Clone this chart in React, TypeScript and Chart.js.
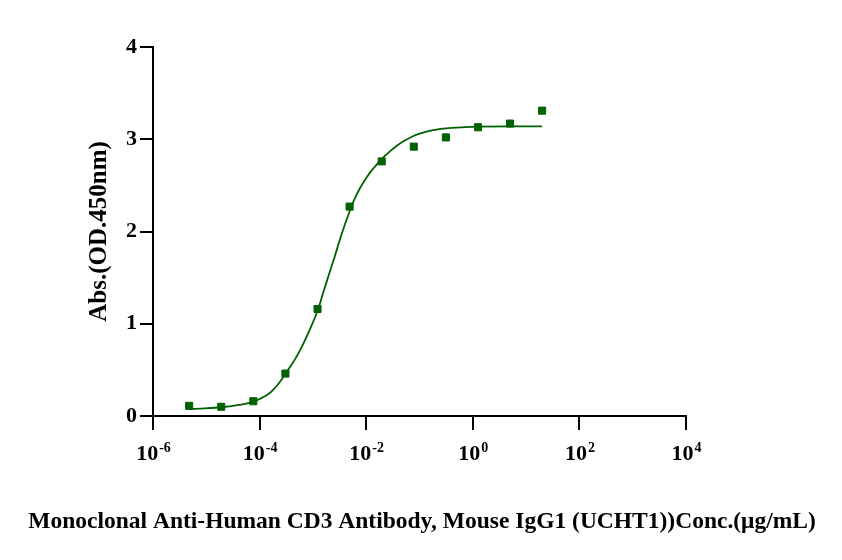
import React, { useEffect, useRef } from "react";
import { Chart, registerables } from "chart.js";

Chart.register(...registerables);

// Measured points (4-fold dilution series, µg/mL)
const concentrations = [
  20, 5, 1.25, 0.3125, 0.078125, 0.01953125, 0.0048828125, 0.001220703125,
  0.00030517578125, 0.0000762939453125, 0.000019073486328125, 0.00000476837158203125,
];
const absorbance = [3.31, 3.17, 3.13, 3.02, 2.92, 2.76, 2.27, 1.16, 0.46, 0.16, 0.1, 0.11];

// Fitted curve (log10 concentration, absorbance)
const fitLogConc = [
  -5.32, -5.03, -4.71, -4.38, -4.11, -3.98, -3.87, -3.78, -3.68, -3.6, -3.51, -3.42, -3.32,
  -3.19, -3.04, -2.9, -2.8, -2.69, -2.59, -2.5, -2.4, -2.31, -2.25, -2.2, -2.13, -2.06, -1.98,
  -1.9, -1.8, -1.71, -1.63, -1.56, -1.45, -1.31, -1.15, -1.0, -0.85, -0.68, -0.5, -0.31, 0.1,
  0.7, 1.3,
];
const fitAbs = [
  0.075, 0.082, 0.095, 0.12, 0.155, 0.19, 0.225, 0.265, 0.325, 0.385, 0.46, 0.54, 0.63, 0.77,
  0.96, 1.16, 1.35, 1.55, 1.73, 1.9, 2.075, 2.22, 2.31, 2.375, 2.455, 2.525, 2.597, 2.66,
  2.728, 2.785, 2.83, 2.866, 2.918, 2.975, 3.025, 3.06, 3.085, 3.105, 3.118, 3.127, 3.136,
  3.14, 3.14,
];

const xTickValues = [1e-6, 1e-4, 1e-2, 1, 1e2, 1e4];
const xTickBase = "10";
const xTickExponents = ["-6", "-4", "-2", "0", "2", "4"];

const yTitle = "Abs.(OD.450nm)";
const xTitle = "Monoclonal Anti-Human CD3 Antibody, Mouse IgG1 (UCHT1))Conc.(\u03bcg/mL)";

const GREEN = "#006100";
const SERIF = '"Liberation Serif", "Times New Roman", serif';

const customText = {
  id: "customText",
  afterDraw(chart: any) {
    const { ctx } = chart;
    const xs = chart.scales.x;
    ctx.save();
    ctx.fillStyle = "#000";
    ctx.textBaseline = "alphabetic";
    ctx.textAlign = "left";
    xTickValues.forEach((v, i) => {
      const px = xs.getPixelForValue(v);
      ctx.font = `bold 22px ${SERIF}`;
      const baseW = ctx.measureText(xTickBase).width;
      ctx.font = `bold 14px ${SERIF}`;
      const expW = ctx.measureText(xTickExponents[i]).width;
      const start = px - (baseW + expW) / 2;
      ctx.font = `bold 22px ${SERIF}`;
      ctx.fillText(xTickBase, start, 460);
      ctx.font = `bold 14px ${SERIF}`;
      ctx.fillText(xTickExponents[i], start + baseW + 1, 452);
    });
    ctx.font = `bold 23.5px ${SERIF}`;
    ctx.textAlign = "center";
    ctx.fillText(xTitle, 422, 528, 792);
    ctx.restore();
  },
};

export default function App() {
  const ref = useRef<HTMLCanvasElement | null>(null);

  useEffect(() => {
    document.body.style.margin = "0";
    const canvas = ref.current;
    if (!canvas) return;
    const chart = new Chart(canvas, {
      type: "scatter",
      data: {
        datasets: [
          {
            label: "Fit",
            type: "line",
            data: fitLogConc.map((l, i) => ({ x: Math.pow(10, l), y: fitAbs[i] })),
            borderColor: GREEN,
            borderWidth: 1.8,
            pointRadius: 0,
            showLine: true,
            fill: false,
            cubicInterpolationMode: "monotone",
          } as any,
          {
            label: "Data",
            data: concentrations.map((c, i) => ({ x: c, y: absorbance[i] })),
            backgroundColor: GREEN,
            borderColor: GREEN,
            borderWidth: 1,
            pointStyle: "rect",
            pointRadius: 5,
          },
        ],
      },
      options: {
        responsive: false,
        animation: false,
        layout: { padding: { left: 87, top: 47, right: 156, bottom: 0 } },
        plugins: { legend: { display: false }, tooltip: { enabled: false } },
        scales: {
          x: {
            type: "logarithmic",
            min: 1e-6,
            max: 1e4,
            afterBuildTicks: (scale: any) => {
              scale.ticks = xTickValues.map((v) => ({ value: v }));
            },
            afterFit: (scale: any) => {
              scale.height = 560 - 416;
            },
            ticks: { display: false },
            grid: {
              display: true,
              drawOnChartArea: false,
              drawTicks: true,
              tickLength: 14,
              color: "#000",
              lineWidth: 2,
            },
            border: { display: true, color: "#000", width: 2 },
          },
          y: {
            type: "linear",
            min: 0,
            max: 4,
            afterFit: (scale: any) => {
              scale.width = 153 - 87;
            },
            ticks: {
              stepSize: 1,
              color: "#000",
              font: { family: SERIF, size: 22, weight: "bold" },
              padding: 3,
            },
            grid: {
              display: true,
              drawOnChartArea: false,
              drawTicks: true,
              tickLength: 13,
              color: "#000",
              lineWidth: 2,
            },
            border: { display: true, color: "#000", width: 2 },
            title: {
              display: true,
              text: yTitle,
              color: "#000",
              font: { family: SERIF, size: 25, weight: "bold", lineHeight: 1 },
              padding: 0,
            },
          },
        },
      },
      plugins: [customText],
    });
    return () => chart.destroy();
  }, []);

  return (
    <div style={{ position: "absolute", left: 0, top: 0, width: 842, height: 560, background: "#fff" }}>
      <canvas ref={ref} width={842} height={560} style={{ width: 842, height: 560 }} />
    </div>
  );
}
